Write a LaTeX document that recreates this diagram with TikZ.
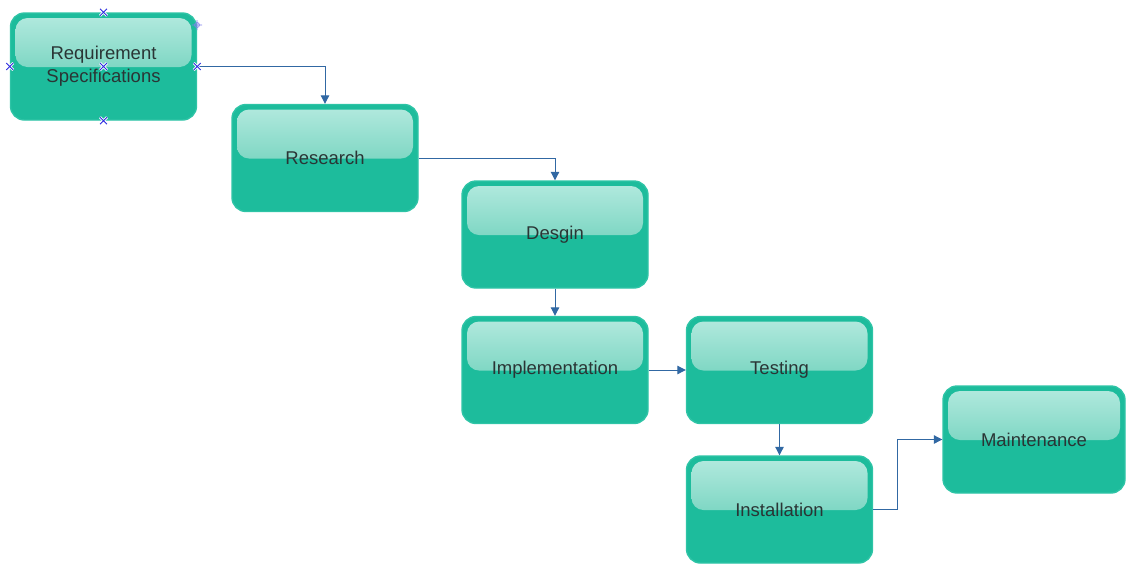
\documentclass[tikz,border=0pt]{standalone}
\usepackage{fontspec}
\setmainfont{Liberation Sans}
\usetikzlibrary{arrows.meta}
\definecolor{stagefill}{HTML}{1DBC9C}
\definecolor{stageedge}{HTML}{2EC4A6}
\definecolor{glosstop}{HTML}{B4EADF}
\definecolor{glossbot}{HTML}{4CC5AA}
\definecolor{labelgray}{HTML}{2A3535}
\definecolor{linkblue}{HTML}{3168A3}
\definecolor{handleblue}{HTML}{2B2BE0}
\tikzset{
  x=1pt, y=-1pt,
  stage/.style={rectangle, rounded corners=14pt, fill=stagefill, draw=stageedge,
    line width=1.4pt, minimum width=186pt, minimum height=107pt, inner sep=0pt,
    text=labelgray, align=center, font=\fontsize{18.5}{23}\selectfont,
    path picture={
      \shade[top color=glosstop, bottom color=glossbot, rounded corners=12pt]
        ([shift={(5,5)}]path picture bounding box.north west) rectangle
        ([shift={(-5,54)}]path picture bounding box.north east);
    }},
  link/.style={draw=linkblue, line width=1pt, -{Triangle[length=8.5pt,width=8.5pt]}},
  handle/.style={draw=handleblue, line width=0.9pt},
}
\begin{document}
\begin{tikzpicture}
\useasboundingbox (0,0) rectangle (1126,563);

% process stages
\node[stage] (req)   at (103.5, 66.5) {Requirement\\Specifications};
\node[stage] (res)   at (325, 158)    {Research};
\node[stage] (des)   at (555, 234.5)  {Desgin};
\node[stage] (imp)   at (555, 370)    {Implementation};
\node[stage] (tst)   at (779.5, 370)  {Testing};
\node[stage] (ins)   at (779.5, 509.5){Installation};
\node[stage, minimum width=182pt] (mnt) at (1034, 439.5) {Maintenance};

% connectors
\draw[link] (req.east) -| (res.north);
\draw[link] (res.east) -| (des.north);
\draw[link] (des.south) -- (imp.north);
\draw[link] (imp.east) -- (tst.west);
\draw[link] (tst.south) -- (ins.north);
\coordinate (bend) at (897, 0);
\draw[link] (ins.east) -| (bend |- mnt.west) -- (mnt.west);

% selection handles on the first stage
\foreach \p in {req.north, req.west, req.center, req.east, req.south}{
  \draw[white, line width=2.6pt] (\p) +(-3.5,-3.5) -- +(3.5,3.5) +(-3.5,3.5) -- +(3.5,-3.5);
  \draw[handle] (\p) +(-3.5,-3.5) -- +(3.5,3.5) +(-3.5,3.5) -- +(3.5,-3.5);
}
\coordinate (rot) at (197, 25);
\draw[handleblue!60, line width=0.7pt] (rot) circle (2.5) (rot) +(-5,0) -- +(5,0) (rot) +(0,-5) -- +(0,5);
\end{tikzpicture}
\end{document}
